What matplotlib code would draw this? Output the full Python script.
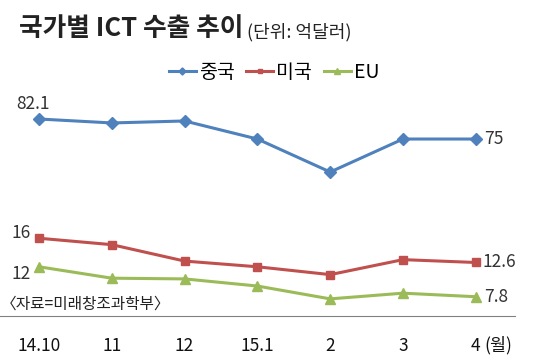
import matplotlib
matplotlib.use("Agg")
import matplotlib.pyplot as plt

plt.rcParams['font.family'] = ['Noto Sans CJK KR', 'DejaVu Sans']

months = ["14.10", "11", "12", "15.1", "2", "3", "4"]
china = [82.1, 80.7, 81.4, 75.0, 63.3, 75.0, 75.0]
usa = [16.0, 15.1, 12.8, 12.0, 10.9, 13.0, 12.6]
eu = [12.0, 10.4, 10.3, 9.3, 7.5, 8.3, 7.8]

W, H = 555, 360
fig = plt.figure(figsize=(W / 100, H / 100), dpi=100)

def fy(py):
    return 1 - py / H

x = list(range(len(months)))
x0, dx = 39, 72.8

blue, red, green = "#4F81BD", "#C0504D", "#9BBB59"

# top panel: China
ax1 = fig.add_axes([0, fy(190), 1, 90 / H])
ax1.set_xlim(-x0 / dx, (W - x0) / dx)
ax1.set_ylim(56.92, 88.84)
ax1.axis("off")
l1, = ax1.plot(x, china, color=blue, lw=2.2, marker="D", ms=6, label="중국")

# bottom panel: US / EU
ax2 = fig.add_axes([0, fy(316), 515 / W, 116 / H])
ax2.set_xlim(-x0 / dx, (515 - x0) / dx)
ax2.set_ylim(5.1, 21.36)
l2, = ax2.plot(x, usa, color=red, lw=2.2, marker="s", ms=5.5, label="미국")
l3, = ax2.plot(x, eu, color=green, lw=2.2, marker="^", ms=6.5, label="EU")
for s in ["top", "left", "right"]:
    ax2.spines[s].set_visible(False)
ax2.spines["bottom"].set_color("#808080")
ax2.spines["bottom"].set_linewidth(0.8)
ax2.set_yticks([])
ax2.set_xticks(x)
ax2.set_xticklabels(months, fontsize=12.5, color="#111111")
ax2.tick_params(axis="x", length=0, pad=15)

lab = dict(fontsize=12.5, color="#333333", textcoords="offset points", annotation_clip=False)
ax1.annotate(f"{china[0]}", (x[0], china[0]), xytext=(-4, 11), ha="center", va="center", **lab)
ax1.annotate(f"{china[-1]:g}", (x[-1], china[-1]), xytext=(6, 0), ha="left", va="center", **lab)
ax2.annotate(f"{usa[0]:g}", (x[0], usa[0]), xytext=(-6, 4), ha="right", va="center", **lab)
ax2.annotate(f"{usa[-1]}", (x[-1], usa[-1]), xytext=(5, 0), ha="left", va="center", **lab)
ax2.annotate(f"{eu[0]:g}", (x[0], eu[0]), xytext=(-6, -5), ha="right", va="center", **lab)
ax2.annotate(f"{eu[-1]}", (x[-1], eu[-1]), xytext=(6, 0), ha="left", va="center", **lab)

fig.text(484 / W, fy(345), "(월)", fontsize=12.5, ha="left", va="center", color="#111111")
fig.text(1 / W, fy(304), "〈자료=미래창조과학부〉", fontsize=11.3, ha="left", va="center", color="#222222")

fig.text(19 / W, fy(28), "국가별 ICT 수출 추이", fontsize=18.5, fontweight="bold", ha="left", va="center", color="#222222")
fig.text(247 / W, fy(32), "(단위: 억달러)", fontsize=13, ha="left", va="center", color="#222222")

fig.legend(handles=[l1, l2, l3], loc="center", bbox_to_anchor=(274 / W, fy(72)), ncol=3,
           frameon=False, fontsize=14, handlelength=1.4, handletextpad=0.15, columnspacing=0.6,
           markerscale=0.6)

fig.savefig("out.png", dpi=100)
